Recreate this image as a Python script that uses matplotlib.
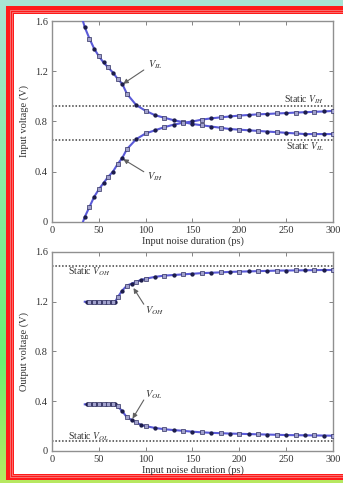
import numpy as np
import matplotlib
matplotlib.use("Agg")
import matplotlib.pyplot as plt
from matplotlib.patches import Rectangle

plt.rcParams['font.family'] = ['Liberation Serif', 'DejaVu Serif']
plt.rcParams['mathtext.fontset'] = 'stix'

# ---- data ----
# top panel: input switching thresholds vs noise duration
t_in = [33, 35, 40, 45, 50, 55, 60, 65, 70, 75, 80, 90, 100, 110, 120, 130, 140, 150,
        160, 170, 180, 190, 200, 210, 220, 230, 240, 250, 260, 270, 280, 290, 300]
v_il = [1.60, 1.55, 1.46, 1.38, 1.32, 1.27, 1.23, 1.19, 1.14, 1.10, 1.02, 0.93, 0.885, 0.85,
        0.83, 0.81, 0.795, 0.78, 0.77, 0.76, 0.75, 0.74, 0.735, 0.73, 0.725, 0.72, 0.715,
        0.71, 0.705, 0.70, 0.70, 0.70, 0.70]
v_ih = [0.00, 0.04, 0.12, 0.20, 0.26, 0.31, 0.36, 0.40, 0.46, 0.51, 0.58, 0.66, 0.705, 0.73,
        0.755, 0.775, 0.79, 0.80, 0.815, 0.825, 0.833, 0.84, 0.847, 0.852, 0.857, 0.86,
        0.864, 0.867, 0.871, 0.874, 0.877, 0.88, 0.884]
static_vih = 0.925
static_vil = 0.65

# bottom panel: output levels vs noise duration
t_out = [35, 37.5, 40, 42.5, 45, 47.5, 50, 52.5, 55, 57.5, 60, 62.5, 65, 67.5, 70, 75, 80,
         85, 90, 95, 100, 110, 120, 130, 140, 150, 160, 170, 180, 190, 200, 210, 220, 230,
         240, 250, 260, 270, 280, 290, 300]
v_oh = [1.2] * 14 + [1.235, 1.29, 1.33, 1.345, 1.36, 1.375, 1.385, 1.40, 1.41, 1.415, 1.42,
                     1.425, 1.43, 1.433, 1.436, 1.44, 1.442, 1.444, 1.446, 1.448, 1.45,
                     1.451, 1.452, 1.453, 1.454, 1.455, 1.455]
v_ol = [0.375] * 14 + [0.36, 0.32, 0.27, 0.25, 0.23, 0.21, 0.20, 0.185, 0.175, 0.168, 0.162,
                       0.155, 0.15, 0.146, 0.143, 0.14, 0.138, 0.136, 0.134, 0.132, 0.13,
                       0.128, 0.127, 0.126, 0.125, 0.124, 0.123]
static_voh = 1.49
static_vol = 0.08

W, H = 343, 483
fig = plt.figure(figsize=(W / 100, H / 100), dpi=100)

# background gradient + red frame
bg = fig.add_axes([0, 0, 1, 1], zorder=-10)
grad = np.linspace(0, 1, 200)[:, None]
top_c = np.array([0.66, 0.89, 0.83])
mid_c = np.array([0.42, 0.94, 0.45])
bot_c = np.array([0.72, 0.91, 0.38])
cols = np.where(grad < 0.75, top_c + (mid_c - top_c) * (grad / 0.75),
                mid_c + (bot_c - mid_c) * ((grad - 0.75) / 0.25))
bg.imshow(cols[:, None, :].repeat(2, axis=1), aspect='auto', extent=[0, 1, 0, 1])
bg.axis('off')


def px_rect(x0, y0, x1, y1, **kw):
    r = Rectangle((x0 / W, 1 - y1 / H), (x1 - x0) / W, (y1 - y0) / H,
                  transform=fig.transFigure, **kw)
    fig.add_artist(r)


px_rect(6, 6, 360, 480, facecolor='#ff1a1a', edgecolor='none', zorder=-9)
px_rect(9.5, 9.5, 360, 477, facecolor='none', edgecolor='#f4b0b0', lw=0.4, zorder=-8)
px_rect(12, 12, 360, 475, facecolor='none', edgecolor='#f4b0b0', lw=0.4, zorder=-8)
px_rect(14, 14, 360, 473.5, facecolor='white', edgecolor='none', zorder=-7)

line_c = '#5a5ad8'
mark_c = '#1c1c4a'
dot_c = '#404040'
txt_c = '#333333'


def style(ax, ylabel):
    ax.set_xlim(0, 300)
    ax.set_ylim(0, 1.6)
    ax.set_xticks([0, 50, 100, 150, 200, 250, 300])
    ax.set_yticks([0, 0.4, 0.8, 1.2, 1.6])
    ax.set_yticklabels(['0', '0.4', '0.8', '1.2', '1.6'])
    ax.tick_params(direction='in', top=True, right=True, length=3, width=0.6,
                   colors='#707070', labelcolor=txt_c, labelsize=7.5, pad=3)
    for s in ax.spines.values():
        s.set_color('#909090')
        s.set_linewidth(1.0)
    ax.set_xlabel('Input noise duration (ps)', fontsize=7.5, color=txt_c, labelpad=1)
    ax.set_ylabel(ylabel, fontsize=7.5, color=txt_c, labelpad=4)
    ax.patch.set_alpha(0)


def series(ax, t, v):
    ax.plot(t, v, color=line_c, lw=1.5, zorder=3)
    ax.plot(t[1::2], v[1::2], 'o', ms=2.1, color=mark_c, zorder=4)
    ax.plot(t[2::2], v[2::2], 's', ms=2.2, mfc='#a0a0cc', mec='#303060', mew=0.5, zorder=4)


arrow_kw = dict(arrowstyle='-|>', color='#606060', lw=0.8, mutation_scale=7,
                shrinkA=0, shrinkB=0)

# ---- top panel ----
ax1 = fig.add_axes([0.1516, 0.5404, 0.8192, 0.4161])
ax1.axhline(static_vih, color=dot_c, ls=(0, (1, 1.2)), lw=1.1, zorder=2)
ax1.axhline(static_vil, color=dot_c, ls=(0, (1, 1.2)), lw=1.1, zorder=2)
series(ax1, t_in, v_il)
series(ax1, t_in, v_ih)
style(ax1, 'Input voltage (V)')
ax1.text(291, 0.975, r'Static $V_{IH}$', fontsize=7, color=txt_c, ha='right', va='center')
ax1.text(291, 0.60, r'Static $V_{IL}$', fontsize=7, color=txt_c, ha='right', va='center')
ax1.text(102, 1.25, r'$V_{IL}$', fontsize=7.5, color=txt_c, ha='left', va='center')
ax1.text(101, 0.36, r'$V_{IH}$', fontsize=7.5, color=txt_c, ha='left', va='center')
ax1.annotate('', xy=(76, 1.10), xytext=(98, 1.21), arrowprops=arrow_kw)
ax1.annotate('', xy=(76, 0.50), xytext=(98, 0.40), arrowprops=arrow_kw)

# ---- bottom panel ----
ax2 = fig.add_axes([0.1516, 0.0663, 0.8192, 0.4120])
ax2.axhline(static_voh, color=dot_c, ls=(0, (1, 1.2)), lw=1.1, zorder=2)
ax2.axhline(static_vol, color=dot_c, ls=(0, (1, 1.2)), lw=1.1, zorder=2)
series(ax2, t_out, v_oh)
series(ax2, t_out, v_ol)
style(ax2, 'Output voltage (V)')
ax2.text(17, 1.44, r'Static $V_{OH}$', fontsize=7, color=txt_c, ha='left', va='center')
ax2.text(17, 0.113, r'Static $V_{OL}$', fontsize=7, color=txt_c, ha='left', va='center')
ax2.text(99, 1.13, r'$V_{OH}$', fontsize=7.5, color=txt_c, ha='left', va='center')
ax2.text(99, 0.45, r'$V_{OL}$', fontsize=7.5, color=txt_c, ha='left', va='center')
ax2.annotate('', xy=(87, 1.31), xytext=(98, 1.18), arrowprops=arrow_kw)
ax2.annotate('', xy=(86, 0.26), xytext=(98, 0.41), arrowprops=arrow_kw)

fig.savefig('out.png', dpi=100)
